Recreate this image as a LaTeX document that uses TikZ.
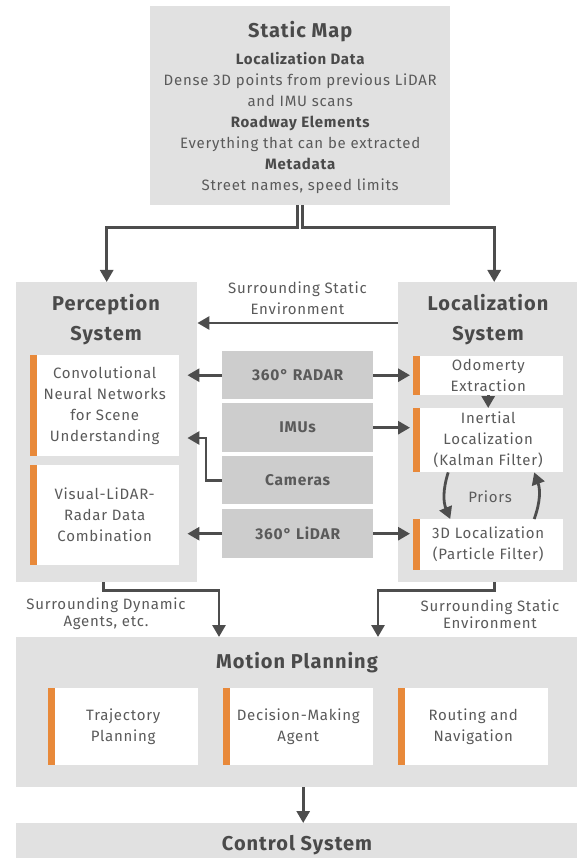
\documentclass[tikz,border=0pt]{standalone}
\usepackage{fontspec}
\setmainfont{Fira Sans}[LetterSpace=5]
\usetikzlibrary{arrows.meta}

\definecolor{boxgray}{HTML}{E1E1E1}
\definecolor{sensorgray}{HTML}{CDCDCD}
\definecolor{textgray}{HTML}{5A5A5A}
\definecolor{titlegray}{HTML}{4A4A4A}
\definecolor{lineorange}{HTML}{E8893A}
\definecolor{arrowgray}{HTML}{4D4D4D}

\newcommand{\bodysize}{\fontsize{15}{21}\selectfont}
\newcommand{\headsize}{\fontsize{20}{30}\selectfont\bfseries}

\tikzset{
    bigbox/.style={fill=boxgray, inner sep=0pt, anchor=north west},
    sensorbox/.style={fill=sensorgray, inner sep=0pt, anchor=north west,
        minimum width=151pt, font=\fontsize{15.5}{18}\selectfont\bfseries, text=textgray},
    subbox/.style={fill=white, inner sep=0pt, anchor=north west, align=center,
        text=textgray, font=\bodysize,
        path picture={\fill[lineorange] (path picture bounding box.north west)
            rectangle ([xshift=7pt]path picture bounding box.south west);}},
    heading/.style={font=\headsize, text=titlegray, align=center},
    flowlabel/.style={font=\bodysize, text=textgray, align=center},
    arr/.style={draw=arrowgray, line width=2.8pt, -{Triangle[width=13pt,length=12pt]}},
}

\begin{document}
\begin{tikzpicture}[x=1pt, y=-1pt]
    \useasboundingbox (0,0) rectangle (577,858);

    % Static map
    \node[bigbox, minimum width=300pt, minimum height=199pt, align=center,
        text=textgray, font=\bodysize] (smap) at (150,6) {%
        {\headsize\color{titlegray}\rule{0pt}{20pt}Static Map}\\[6pt]
        {\bfseries\color{titlegray}Localization Data}\\
        Dense 3D points from previous LiDAR\\
        and IMU scans\\
        {\bfseries\color{titlegray}Roadway Elements}\\
        Everything that can be extracted\\
        {\bfseries\color{titlegray}Metadata}\\
        Street names, speed limits};

    % Subsystems
    \node[bigbox, minimum width=181pt, minimum height=300pt] (percep) at (16,282) {};
    \node[bigbox, minimum width=192pt, minimum height=300pt] (loc) at (398,282) {};
    \node[bigbox, minimum width=574pt, minimum height=150pt] (motion) at (16,637) {};
    \node[bigbox, minimum width=574pt, minimum height=60pt] (control) at (16,823) {};

    \node[heading] (perctitle) at (106,320) {Perception\\System};
    \node[heading] (loctitle) at (488,320) {Localization\\System};
    \node[heading] (mptitle) at (297,663) {Motion Planning};
    \node[heading] (ctrltitle) at (297,845) {Control System};

    % Perception blocks
    \node[subbox, minimum width=149pt, minimum height=101pt] (cnn) at (30,355)
        {Convolutional\\Neural Networks\\for Scene\\Understanding};
    \node[subbox, minimum width=149pt, minimum height=100pt] (visual) at (30,465)
        {Visual-LiDAR-\\Radar Data\\Combination};

    % Localization blocks
    \node[subbox, minimum width=150pt, minimum height=39pt] (odo) at (413,356)
        {Odomerty\\Extraction};
    \node[subbox, minimum width=150pt, minimum height=64pt] (inert) at (413,408)
        {Inertial\\Localization\\(Kalman Filter)};
    \node[subbox, minimum width=150pt, minimum height=51pt] (loc3d) at (413,519)
        {3D Localization\\(Particle Filter)};

    % Motion planning blocks
    \foreach \x/\name/\txt in {48/traj/Trajectory\\Planning,
        223/decis/Decision-Making\\Agent, 398/route/Routing and\\Navigation} {
        \node[subbox, minimum width=150pt, minimum height=77pt] (\name) at (\x,688) {\txt};
    }

    % Sensors
    \foreach \y/\h/\name/\txt in {351/48/radar/360° RADAR, 403/49/imus/IMUs,
        456/48/cams/Cameras, 509/49/lidar/360° LiDAR} {
        \node[sensorbox, minimum height=\h pt] (\name) at (222,\y) {\txt};
    }

    % Labels
    \node[flowlabel] (envtop) at (297.5,298.5) {Surrounding Static\\Environment};
    \node[flowlabel, font=\fontsize{15}{17}\selectfont] (dynlbl) at (106,614)
        {Surrounding Dynamic\\Agents, etc.};
    \node[flowlabel, font=\fontsize{15}{17}\selectfont] (statlbl) at (490,614)
        {Surrounding Static\\Environment};
    \node[flowlabel] (priors) at (490,497) {Priors};

    \coordinate (camturn) at (206,438);
    \coordinate (mpdyn) at (219,637);
    \coordinate (mpstat) at (378,637);

    % Map to subsystems
    \draw[arr] ([xshift=-3pt]smap.south) -- ++(0,22) -| (percep.north);
    \draw[arr] ([xshift=2pt]smap.south) -- ++(0,22) -| (loc.north);
    \draw[arr] (loc.west |- 0,323) -- (percep.east |- 0,323);

    % Sensor connections
    \draw[arr, shorten >=8pt] (radar) -- (cnn.east |- radar);
    \draw[arr, shorten >=3pt] (radar) -- (odo.west |- radar);
    \draw[arr, shorten >=3pt] (imus) -- (inert.west |- imus);
    \draw[arr, shorten >=8pt] (cams.west) -| (camturn) -- (cnn.east |- camturn);
    \draw[arr, shorten >=8pt] (lidar) -- (visual.east |- lidar);
    \draw[arr, shorten >=3pt] (lidar) -- (loc3d.west |- lidar);

    % Inside localization
    \draw[arr] (odo.south) -- (inert.north);
    \draw[arr] ([xshift=-40pt]inert.south) to[bend right=20] ([xshift=-38pt]loc3d.north);
    \draw[arr] ([xshift=46pt]loc3d.north) to[bend right=20] ([xshift=46pt]inert.south);

    % To motion planning and control
    \draw[arr] ([xshift=-3pt]percep.south) -- ++(0,8) -| (mpdyn);
    \draw[arr] (loc.south) -- ++(0,8) -| (mpstat);
    \draw[arr] (motion.south) -- (control.north);
\end{tikzpicture}
\end{document}
